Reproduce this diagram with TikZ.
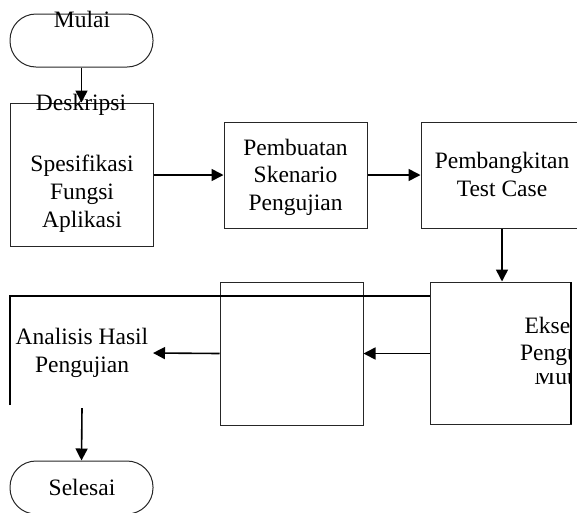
\documentclass[tikz,border=0pt]{standalone}
\usepackage{fontspec}
\setmainfont{Liberation Serif}
\usetikzlibrary{arrows.meta}
\begin{document}
\begin{tikzpicture}[x=1pt,y=-1pt,
  boxnode/.style={draw=black!85,line width=1pt,minimum width=143pt,inner sep=0pt},
  pill/.style={draw=black!85,line width=1pt,minimum width=143pt,minimum height=53pt,rounded corners=26pt,inner sep=0pt},
  txt/.style={anchor=base,inner sep=0pt,font=\fontsize{23.5}{28}\selectfont},
  conn/.style={line width=1.6pt,-{Triangle[length=12pt,width=12pt]}},
  plain/.style={line width=1.6pt}]
\clip (0,0) rectangle (577,512);
% start
\node[pill] (mulai) at (81.5,40.5) {};
\node[txt] (tmulai) at (82,27) {Mulai};
% box 1
\node[boxnode,minimum height=143pt] (b1) at (81.5,174.5) {};
\node[txt] (t1a) at (81,110) {Deskripsi};
\node[txt] (t1b) at (82,171) {Spesifikasi};
\node[txt] (t1c) at (82,199) {Fungsi};
\node[txt] (t1d) at (82,227) {Aplikasi};
% box 2
\node[boxnode,minimum height=106pt] (b2) at (295.5,175) {};
\node[txt] (t2a) at (295.5,155) {Pembuatan};
\node[txt] (t2b) at (295.5,182) {Skenario};
\node[txt] (t2c) at (295.5,210) {Pengujian};
% box 3
\node[boxnode,minimum width=162pt,minimum height=106pt] (b3) at (502,175) {};
\node[txt] (t3a) at (502,168) {Pembangkitan};
\node[txt] (t3b) at (502,196) {Test Case};
% box 4
\node[boxnode,minimum width=141pt,minimum height=142pt] (b4) at (500.5,353) {};
\draw[line width=1.6pt] (571,282) -- (571,424);
\begin{scope}
  \clip (431,283) rectangle (570,423);
  \node[txt] (t4a) at (567,333) {Eksekusi};
  \node[txt] (t4b) at (567,360) {Pengujian};
\end{scope}
\begin{scope}
  \clip (431,373) rectangle (570,423);
  \node[txt] (t4c) at (567,384) {Mutasi};
\end{scope}
% middle empty box
\node[boxnode,minimum height=143pt] (bm) at (291.5,353.5) {};
% analysis (partial box)
\coordinate (acorner) at (10,296);
\coordinate (aleft) at (10,405);
\draw[plain] (aleft) -- (acorner) -- (acorner -| b4.west);
\node[txt] (tana1) at (82,344) {Analisis Hasil};
\node[txt] (tana2) at (82,372) {Pengujian};
\coordinate (aright) at (153,353);
\coordinate (abottom) at (82,408);
% end
\node[pill] (selesai) at (81.5,487.5) {};
\node[txt] (tsel) at (82,495) {Selesai};
% connectors
\draw[conn] (mulai.south) -- (b1.north);
\draw[conn] (b1.east |- b2.west) -- (b2.west);
\draw[conn] (b2.east) -- (b3.west);
\draw[conn] (b3.south) -- (b3.south |- b4.north);
\draw[conn] (b4.west |- bm.east) -- (bm.east);
\draw[conn] (bm.west) -- (aright);
\draw[conn] (abottom) -- (selesai.north);
\end{tikzpicture}
\end{document}
